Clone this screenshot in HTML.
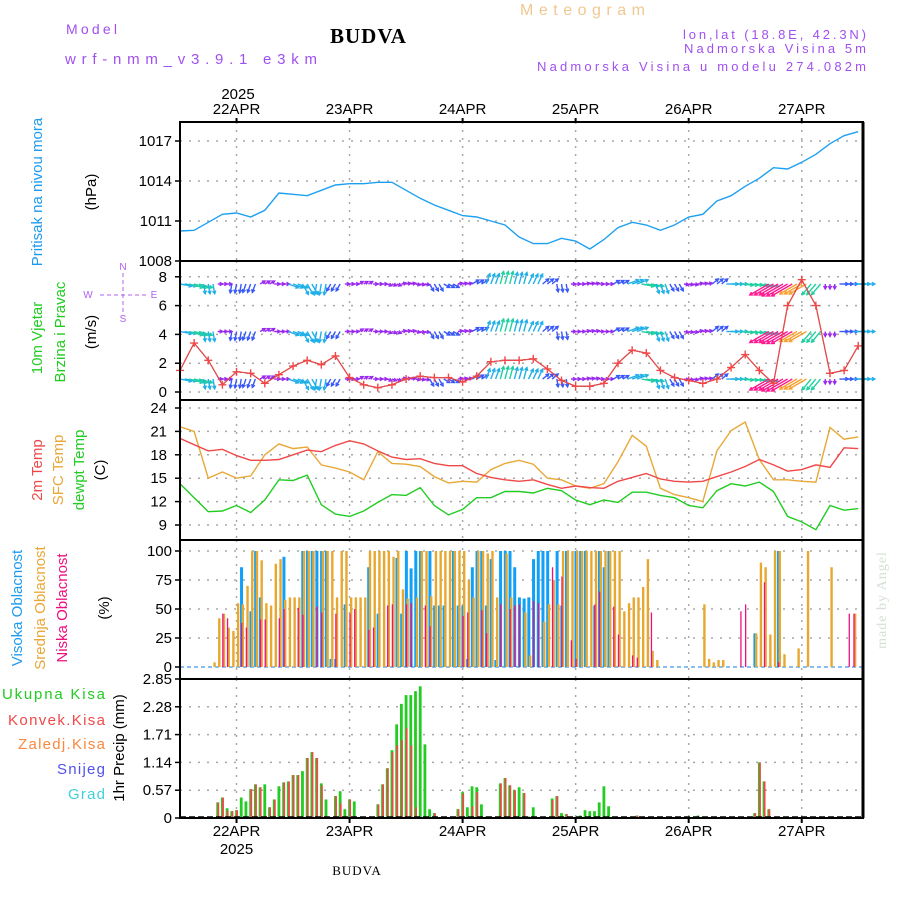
<!DOCTYPE html>
<html><head><meta charset="utf-8">
<style>
html,body{margin:0;padding:0;background:#fff;}
svg{display:block;font-family:"Liberation Sans","DejaVu Sans",sans-serif;}
</style></head>
<body>
<svg id="chart" width="900" height="900" viewBox="0 0 900 900" xmlns="http://www.w3.org/2000/svg">
<rect width="900" height="900" fill="#fff"/>
<text x="66" y="34" font-size="14" fill="#a050f0" textLength="51">Model</text>
<text x="65" y="64" font-size="15" fill="#a050f0" textLength="252">wrf-nmm_v3.9.1 e3km</text>
<text x="330" y="43" font-size="21" font-weight="bold" font-family="Liberation Serif, serif" fill="#000" letter-spacing="1">BUDVA</text>
<text x="520" y="15" font-size="16" fill="#f0c890" textLength="125">Meteogram</text>
<text x="683" y="39" font-size="13" fill="#a050f0" textLength="183">lon,lat (18.8E, 42.3N)</text>
<text x="684" y="53" font-size="13" fill="#a050f0" textLength="182">Nadmorska Visina 5m</text>
<text x="537" y="71" font-size="13" fill="#a050f0" textLength="329">Nadmorska Visina u modelu 274.082m</text>
<text x="238" y="99" font-size="15" fill="#000" text-anchor="middle">2025</text>
<text x="357" y="875" font-size="13" font-family="Liberation Serif, serif" fill="#000" text-anchor="middle" letter-spacing="1">BUDVA</text>
<text transform="translate(886,600) rotate(-90)" font-size="14" font-family="Liberation Serif, serif" fill="#d4e0d4" text-anchor="middle" letter-spacing="1">made by Angel</text>

<text transform="translate(42,192) rotate(-90)" font-size="15" fill="#1e9bf0" text-anchor="middle">Pritisak na nivou mora</text>
<text transform="translate(96,192) rotate(-90)" font-size="15" fill="#000" text-anchor="middle">(hPa)</text>
<text transform="translate(42,338) rotate(-90)" font-size="15" fill="#22cc22" text-anchor="middle">10m Vjetar</text>
<text transform="translate(65,332) rotate(-90)" font-size="15" fill="#22cc22" text-anchor="middle">Brzina i Pravac</text>
<text transform="translate(96,332) rotate(-90)" font-size="15" fill="#000" text-anchor="middle">(m/s)</text>
<g fill="#b060f0" font-size="10" text-anchor="middle">
<text x="123" y="270">N</text><text x="123" y="322">S</text><text x="88" y="298">W</text><text x="154" y="298">E</text>
<line x1="100" y1="295" x2="146" y2="295" stroke="#b060f0" stroke-dasharray="4,3"/>
<line x1="123" y1="273" x2="123" y2="315" stroke="#b060f0" stroke-dasharray="4,3"/>
</g>
<text transform="translate(42,470) rotate(-90)" font-size="15" fill="#f04848" text-anchor="middle">2m Temp</text>
<text transform="translate(63,470) rotate(-90)" font-size="15" fill="#e8a838" text-anchor="middle">SFC Temp</text>
<text transform="translate(84,470) rotate(-90)" font-size="15" fill="#22cc22" text-anchor="middle">dewpt Temp</text>
<text transform="translate(105,470) rotate(-90)" font-size="15" fill="#000" text-anchor="middle">(C)</text>
<text transform="translate(22,608) rotate(-90)" font-size="15" fill="#1e9bf0" text-anchor="middle">Visoka Oblacnost</text>
<text transform="translate(45,608) rotate(-90)" font-size="15" fill="#e8a838" text-anchor="middle">Srednja Oblacnost</text>
<text transform="translate(67,608) rotate(-90)" font-size="15" fill="#ee1080" text-anchor="middle">Niska Oblacnost</text>
<text transform="translate(109,608) rotate(-90)" font-size="15" fill="#000" text-anchor="middle">(%)</text>
<g font-size="15">
<text x="2" y="699" fill="#22cc22" textLength="103">Ukupna Kisa</text>
<text x="8" y="725" fill="#f04848" textLength="97">Konvek.Kisa</text>
<text x="18" y="749" fill="#f88840" textLength="87">Zaledj.Kisa</text>
<text x="57" y="774" fill="#5050f0" textLength="48">Snijeg</text>
<text x="68" y="799" fill="#40d0d8" textLength="37">Grad</text>
</g>
<text transform="translate(124,748) rotate(-90)" font-size="15" fill="#000" text-anchor="middle">1hr Precip (mm)</text>
<g id="plot"></g>
</svg>
<script>
const dayLabels = ["22APR","23APR","24APR","25APR","26APR","27APR"];
const dayHours = [12,36,60,84,108,132];
const hours3 = [0,3,6,9,12,15,18,21,24,27,30,33,36,39,42,45,48,51,54,57,60,63,66,69,72,75,78,81,84,87,90,93,96,99,102,105,108,111,114,117,120,123,126,129,132,135,138,141,144];
const pressure = [1010.25,1010.3,1010.9,1011.5,1011.6,1011.3,1011.8,1013.1,1013.0,1012.9,1013.3,1013.7,1013.8,1013.8,1013.9,1013.9,1013.3,1012.7,1012.2,1011.8,1011.4,1011.3,1011.0,1010.7,1009.8,1009.3,1009.3,1009.7,1009.5,1008.9,1009.6,1010.5,1010.9,1010.7,1010.3,1010.7,1011.3,1011.5,1012.5,1012.9,1013.6,1014.2,1015.0,1014.9,1015.4,1016.0,1016.8,1017.4,1017.7];
const windSpeed = [1.5,3.4,2.2,0.5,1.4,1.3,0.6,1.2,1.8,2.2,1.9,2.5,1.0,0.5,0.3,0.5,0.9,1.1,1.0,1.0,0.7,1.1,2.1,2.2,2.2,2.3,1.6,0.8,0.4,0.4,0.6,2.0,2.9,2.7,1.5,1.0,0.8,0.6,0.9,1.7,2.6,1.5,0.6,6.0,7.8,6.0,1.3,1.5,3.2];
const windAngle = [10,15,80,0,100,110,330,0,20,60,100,120,0,330,0,20,350,10,60,30,350,330,290,285,285,295,320,80,0,350,0,330,340,10,70,60,10,350,320,0,5,10,150,150,150,130,90,0,0];
const windLen = [12,14,10,5,9,9,6,6,11,12,11,8,5,5,5,5,5,5,8,7,5,8,11,13,12,11,8,8,5,5,5,7,12,13,10,8,5,5,8,12,13,15,22,24,20,14,5,9,12];
const windRows = [7.5,4.2,0.9];
const temp2m = [20.1,19.3,18.5,18.7,17.9,17.3,17.3,17.4,18.0,18.6,18.4,19.2,19.8,19.4,18.5,17.7,17.4,17.5,16.9,16.6,16.6,15.6,15.1,14.8,14.6,14.8,14.2,13.7,14.0,13.8,13.7,14.6,15.1,15.6,14.9,14.6,14.5,14.6,15.2,15.8,16.5,17.4,16.7,15.9,16.1,16.7,16.4,18.9,18.8];
const tempSfc = [21.6,21.0,15.0,15.8,15.0,15.3,18.0,19.4,18.8,19.0,16.7,16.3,15.8,14.8,18.4,16.9,16.8,16.5,15.2,14.4,14.6,14.5,16.1,16.9,17.3,16.8,15.0,14.8,14.0,13.7,14.3,17.1,20.5,19.1,13.7,12.9,12.5,12.0,18.5,21.1,22.2,17.4,14.8,14.8,14.6,14.5,21.5,20.0,20.3];
const dewpt = [14.3,12.5,10.7,10.8,11.5,10.6,12.2,14.8,14.7,15.4,11.6,10.4,10.1,10.8,11.9,12.9,12.8,13.8,11.5,10.3,11.0,12.5,12.5,13.3,13.3,13.1,13.7,13.4,12.2,11.6,12.2,11.9,13.2,13.2,12.8,12.5,11.5,11.2,13.4,14.3,14.0,14.5,13.3,10.1,9.4,8.4,11.5,10.9,11.1];
const cloudHigh = [[13,86],[15,48],[16,100],[17,60],[22,95],[26,100],[27,100],[28,100],[29,100],[30,100],[31,100],[32,7],[33,7],[35,54],[40,86],[42,46],[46,94],[47,46],[48,100],[49,85],[50,100],[51,100],[53,100],[54,53],[55,53],[56,53],[58,100],[59,53],[60,53],[61,7],[62,86],[63,100],[64,100],[65,53],[66,93],[67,6],[68,100],[69,100],[70,100],[71,86],[72,60],[73,59],[74,60],[75,93],[76,100],[77,100],[78,100],[80,100],[81,53],[82,100],[84,100],[85,100],[86,100],[88,53],[89,100],[90,86],[91,100],[122,29],[127,100]];
const cloudMid = [[7,4],[8,42],[9,46],[10,34],[11,31],[12,55],[13,54],[14,70],[15,100],[16,100],[17,92],[18,55],[19,53],[20,89],[21,93],[22,58],[23,60],[24,60],[25,60],[26,100],[27,100],[28,100],[30,100],[31,100],[32,100],[33,60],[34,100],[35,100],[36,60],[37,60],[38,60],[39,60],[40,100],[41,100],[42,100],[43,100],[44,100],[45,95],[46,100],[47,67],[48,59],[50,60],[51,100],[52,100],[53,61],[54,100],[55,100],[56,100],[57,100],[58,100],[59,100],[60,100],[61,75],[62,60],[63,100],[64,100],[65,98],[66,100],[67,60],[69,98],[70,60],[73,47],[74,10],[77,39],[78,54],[79,75],[80,54],[81,100],[82,100],[83,100],[84,100],[85,100],[86,100],[87,100],[88,100],[89,100],[90,100],[91,100],[92,100],[93,100],[94,48],[95,55],[96,60],[97,60],[98,69],[99,93],[100,14],[101,6],[111,54],[112,7],[113,4],[114,6],[115,6],[122,29],[123,90],[124,86],[125,28],[126,100],[127,100],[128,11],[131,16],[133,100],[138,86],[143,46]];
const cloudLow = [[9,46],[10,42],[13,38],[14,34],[17,41],[18,41],[21,42],[22,50],[25,51],[26,45],[29,52],[30,47],[33,46],[36,46],[37,50],[40,32],[41,34],[44,53],[45,54],[48,54],[49,55],[52,53],[53,35],[60,44],[61,47],[64,49],[65,29],[68,54],[70,50],[71,53],[72,54],[75,57],[76,55],[79,86],[81,78],[83,23],[84,7],[88,54],[89,65],[92,52],[93,28],[96,10],[97,8],[100,47],[119,48],[120,54],[124,73],[127,4],[142,46],[143,46]];
const precipTotal = [[8,0.32],[9,0.42],[10,0.20],[11,0.14],[12,0.16],[13,0.42],[14,0.34],[15,0.59],[16,0.69],[17,0.63],[18,0.69],[19,0.22],[20,0.38],[21,0.65],[22,0.73],[23,0.75],[24,0.88],[25,0.88],[26,0.96],[27,1.23],[28,1.35],[29,1.23],[30,0.71],[31,0.38],[33,0.45],[34,0.55],[35,0.18],[36,0.38],[37,0.34],[42,0.28],[43,0.69],[44,1.02],[45,1.39],[46,1.92],[47,2.34],[48,2.52],[49,2.52],[50,2.60],[51,2.70],[52,1.51],[53,0.18],[54,0.10],[59,0.18],[60,0.53],[61,0.22],[62,0.65],[63,0.63],[64,0.28],[65,0.03],[68,0.71],[69,0.82],[70,0.67],[71,0.57],[72,0.63],[73,0.51],[74,0.03],[75,0.22],[79,0.40],[80,0.45],[81,0.10],[82,0.08],[85,0.05],[86,0.16],[87,0.14],[88,0.14],[89,0.32],[90,0.65],[91,0.24],[92,0.03],[97,0.05],[98,0.03],[110,0.05],[122,0.10],[123,1.14],[124,0.75],[125,0.18]];
const precipConv = [[8,0.32],[9,0.42],[10,0.15],[11,0.14],[12,0.16],[15,0.59],[16,0.69],[17,0.63],[19,0.22],[20,0.38],[22,0.73],[23,0.75],[24,0.88],[25,0.88],[27,1.23],[28,1.35],[29,1.23],[30,0.67],[33,0.45],[34,0.30],[36,0.38],[42,0.28],[43,0.69],[44,1.02],[45,1.35],[46,1.49],[47,1.60],[48,1.84],[49,1.49],[50,0.22],[54,0.10],[59,0.18],[60,0.50],[62,0.24],[63,0.53],[65,0.03],[68,0.71],[69,0.82],[70,0.67],[71,0.57],[73,0.51],[79,0.37],[80,0.45],[82,0.08],[97,0.05],[122,0.10],[123,1.14],[124,0.75],[125,0.18]];
const pTicks = [1017,1014,1011,1008];
const wTicks = [0,2,4,6,8];
const tTicks = [24,21,18,15,12,9];
const cTicks = [100,75,50,25,0];
const rTicks = ["2.85","2.28","1.71","1.14","0.57","0"];

const X0=180, X1=863, PXH=4.71;
const xOf = h => X0 + h*PXH;
const yP = v => 141 + (1017-v)*13.33;
const yW = v => 392 - v*14.4;
const yT = v => 408 + (24-v)*7.8;
const yC = v => 667 - v*1.16;
const yR = v => 818 - v*48.77;
const NS="http://www.w3.org/2000/svg";
const plot=document.getElementById('plot');
function mk(tag, attrs, parent){const e=document.createElementNS(NS,tag);for(const k in attrs)e.setAttribute(k,attrs[k]);(parent||plot).appendChild(e);return e;}
function grp(name){const g=mk('g',{});


return g;}

const panels=[{name:'pressure-panel',top:122,bot:261},{name:'wind-panel',top:261,bot:400},{name:'temp-panel',top:400,bot:540},{name:'cloud-panel',top:540,bot:679},{name:'precip-panel',top:679,bot:818}];
const grid=grp('grid-lines');
panels.forEach(p=>{dayHours.forEach(h=>{mk('line',{x1:xOf(h),x2:xOf(h),y1:p.top,y2:p.bot,stroke:'#a8a8a8','stroke-width':1.5,'stroke-dasharray':'2,6'},grid);});});
function hgrid(ys){ys.forEach(y=>mk('line',{x1:X0,x2:X1,y1:y,y2:y,stroke:'#a8a8a8','stroke-width':1.5,'stroke-dasharray':'2,7'},grid));}
hgrid(pTicks.map(yP)); hgrid(wTicks.map(yW)); hgrid(tTicks.map(yT)); hgrid(cTicks.slice(0,4).map(yC)); hgrid(rTicks.slice(1,5).map(v=>yR(+v)));

function tickLabels(name, vals, yf, xr){const g=grp(name);vals.forEach(v=>{const y=yf(+v);
const t=mk('text',{x:xr,y:y+5,'font-size':15,'text-anchor':'end',fill:'#000'},g);t.textContent=v;
mk('line',{x1:X0-5,x2:X0,y1:y,y2:y,stroke:'#000','stroke-width':1.5},g);});}
tickLabels('pressure-ticks',pTicks,yP,172);
tickLabels('wind-ticks',wTicks,yW,167);
tickLabels('temp-ticks',tTicks,yT,167);
tickLabels('cloud-ticks',cTicks,yC,172);
tickLabels('precip-ticks',rTicks,yR,172);

const dl=grp('date-labels');
dayLabels.forEach((d,i)=>{const x=xOf(dayHours[i]);
let t=mk('text',{x:x,y:114,'font-size':15,'text-anchor':'middle',fill:'#000'},dl);t.textContent=d;
t=mk('text',{x:x,y:836,'font-size':15,'text-anchor':'middle',fill:'#000'},dl);t.textContent=d;
mk('line',{x1:x,x2:x,y1:118,y2:122,stroke:'#000','stroke-width':2},dl);
mk('line',{x1:x,x2:x,y1:818,y2:823,stroke:'#000','stroke-width':2},dl);});
{const t=mk('text',{x:xOf(12),y:854,'font-size':15,'text-anchor':'middle',fill:'#000'},dl);t.textContent='2025';}

function line(vals, yf, color, name, w){const pts=hours3.map((h,i)=>xOf(h).toFixed(1)+','+yf(vals[i]).toFixed(1)).join(' ');
const l=mk('polyline',{points:pts,fill:'none',stroke:color,'stroke-width':w||1.3});


return l;}

line(pressure,yP,'#1ea0f0','pressure-line',1.4);

function arrowColor(len){return len<=6?'#9a28ee':len<=9?'#3858f8':len<=12?'#20b0e8':len<=15?'#20d0a0':len<=21?'#f8a030':'#ff1890';}
const wg=grp('wind-arrows');
windRows.forEach(r=>{const y0=yW(r);
for(let h=0;h<=145;h++){const i=Math.min(hours3.length-1,Math.round(h/3));
const a=windAngle[i]*Math.PI/180,L=windLen[i],c=arrowColor(L);
const x0=xOf(h),x1=x0+L*Math.cos(a),y1=y0+L*Math.sin(a);
mk('line',{x1:x0,y1:y0,x2:x1,y2:y1,stroke:c,'stroke-width':1.4},wg);
const ha=a+Math.PI;
mk('polyline',{points:`${x1+3.5*Math.cos(ha-0.5)},${y1+3.5*Math.sin(ha-0.5)} ${x1},${y1} ${x1+3.5*Math.cos(ha+0.5)},${y1+3.5*Math.sin(ha+0.5)}`,fill:'none',stroke:c,'stroke-width':1.3},wg);}});
line(windSpeed,yW,'#000','wind-speed-mean',1);
line(windSpeed,yW,'#f04848','wind-speed-line',1.2);
const wm=grp('wind-speed-markers');
hours3.forEach((h,i)=>{const x=xOf(h),y=yW(windSpeed[i]);
mk('path',{d:`M${x-4},${y}H${x+4}M${x},${y-4}V${y+4}`,stroke:'#f04848','stroke-width':1.4},wm);});

line(tempSfc,yT,'#e8a838','sfc-temp-line',1.4);
line(temp2m,yT,'#f04848','temp-2m-line',1.4);
line(dewpt,yT,'#22cc22','dewpt-line',1.4);

mk('line',{x1:X0,x2:X1,y1:667,y2:667,stroke:'#60a8f0','stroke-width':1.5,'stroke-dasharray':'4,3'});
const ch=grp('cloud-high-bars');
cloudHigh.forEach(([h,v])=>{mk('rect',{x:xOf(h)-1.2,y:yC(v),width:3,height:667-yC(v),fill:'#10a0f8'},ch);});
const cm=grp('cloud-mid-bars');
cloudMid.forEach(([h,v])=>{mk('rect',{x:xOf(h)+0.4,y:yC(v),width:2.4,height:667-yC(v),fill:'#e8a830'},cm);});
const cl=grp('cloud-low-bars');
cloudLow.forEach(([h,v])=>{mk('rect',{x:xOf(h)-0.2,y:yC(v),width:1.3,height:667-yC(v),fill:'#f01080'},cl);});

const pt=grp('precip-total-bars');
precipTotal.forEach(([h,v])=>{mk('rect',{x:xOf(h)-1.4,y:yR(v),width:2.8,height:818-yR(v),fill:'#22cc22'},pt);});
const pc=grp('precip-conv-bars');
precipConv.forEach(([h,v])=>{mk('rect',{x:xOf(h)-0.3,y:yR(v),width:1.8,height:818-yR(v),fill:'#f04848'},pc);});
mk('line',{x1:X0,x2:X1,y1:817,y2:817,stroke:'#000','stroke-width':1.5,'stroke-dasharray':'6,3'});

const bd=grp('panel-borders');
panels.forEach(p=>{mk('rect',{x:X0,y:p.top,width:X1-X0,height:p.bot-p.top,fill:'none',stroke:'#000','stroke-width':2},bd);});
mk('line',{x1:X1,x2:X1,y1:122,y2:818,stroke:'#000','stroke-width':3},bd);
</script>
</body></html>
